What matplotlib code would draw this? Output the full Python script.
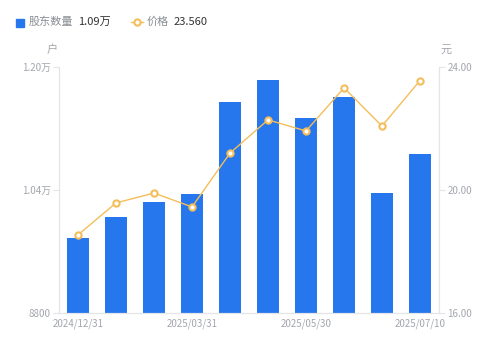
import matplotlib
matplotlib.use("Agg")
import matplotlib.pyplot as plt
import numpy as np

plt.rcParams['font.family'] = ['Noto Sans CJK SC', 'DejaVu Sans']

dates = ["2024/12/31", "2025/01/20", "2025/02/28", "2025/03/31", "2025/04/10",
         "2025/04/30", "2025/05/30", "2025/06/10", "2025/06/30", "2025/07/10"]
holders = [9780, 10050, 10240, 10350, 11545, 11830, 11340, 11610, 10360, 10870]
price = [18.54, 19.58, 19.90, 19.45, 21.20, 22.28, 21.92, 23.32, 22.08, 23.56]
shown_dates = ["2024/12/31", "2025/03/31", "2025/05/30", "2025/07/10"]

bar_color = "#2676EE"
line_color = "#F3BE5A"
tick_color = "#A3A6AD"
axis_color = "#E3E5E8"

fig = plt.figure(figsize=(4.99, 3.46), dpi=100)
ax = fig.add_axes([59 / 499, 1 - 313 / 346, 380 / 499, 246 / 346])
ax2 = ax.twinx()

x = np.arange(len(dates))
ax.bar(x, holders, width=0.58, color=bar_color, zorder=2)
ax.set_xlim(-0.5, len(dates) - 0.5)
ax.set_ylim(8800, 12000)
ax.set_yticks([8800, 10400, 12000])
ax.set_yticklabels(["8800", "1.04万", "1.20万"])

ax2.plot(x, price, color=line_color, lw=1, marker="o", ms=4.5,
         mfc="white", mec=line_color, mew=1.5, zorder=3)
ax2.set_ylim(16, 24)
ax2.set_yticks([16, 20, 24])
ax2.set_yticklabels(["16.00", "20.00", "24.00"])

ax.set_xticks([dates.index(d) for d in shown_dates])
ax.set_xticklabels(shown_dates)

for a in (ax, ax2):
    for s in a.spines.values():
        s.set_color(axis_color)
    a.spines['top'].set_visible(False)
    a.tick_params(colors=tick_color, labelsize=7, length=4, width=0.8)
    a.tick_params(axis='y', color=axis_color, pad=2)
ax.tick_params(axis='x', length=0, pad=4)

fig.text(52 / 499, 1 - 50 / 346, "户", color=tick_color, fontsize=8, ha="center", va="center")
fig.text(446 / 499, 1 - 50 / 346, "元", color=tick_color, fontsize=8, ha="center", va="center")

# legend header
fig.patches.append(plt.Rectangle((16 / 499, 1 - 27 / 346), 8 / 499, 8 / 346,
                                 transform=fig.transFigure, color=bar_color))
fig.text(29 / 499, 1 - 22 / 346, "股东数量", color="#8A8D93", fontsize=8, va="center")
fig.text(78 / 499, 1 - 22 / 346, "1.09万", color="#333333", fontsize=8, va="center")
fig.lines.append(plt.Line2D([131 / 499, 143 / 499], [1 - 22 / 346] * 2, transform=fig.transFigure,
                            color=line_color, lw=1, marker="o", markevery=[0], ms=0))
fig.lines.append(plt.Line2D([137 / 499], [1 - 22 / 346], transform=fig.transFigure,
                            color=line_color, marker="o", ms=4.5, mfc="white", mec=line_color, mew=1.5))
fig.text(147 / 499, 1 - 22 / 346, "价格", color="#8A8D93", fontsize=8, va="center")
fig.text(174 / 499, 1 - 22 / 346, "23.560", color="#333333", fontsize=8, va="center")

fig.savefig("out.png", dpi=100, facecolor="white")
